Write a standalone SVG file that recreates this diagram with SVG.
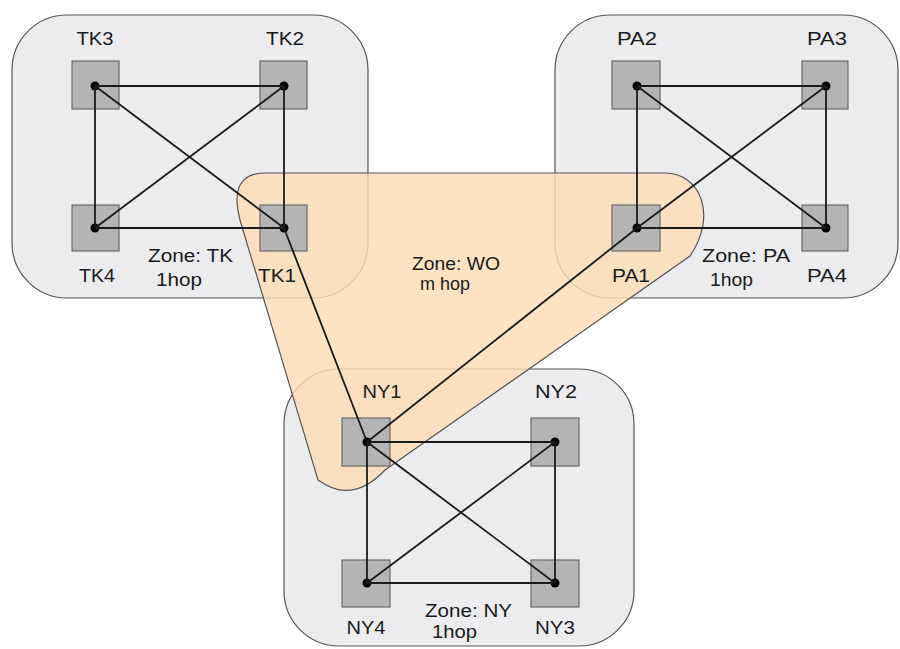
<svg xmlns="http://www.w3.org/2000/svg" width="900" height="649" viewBox="0 0 900 649">
<style>
.zone{fill:#ececef;stroke:#555;stroke-width:1.2}
.wo{fill:#fcdcb6;fill-opacity:0.82;stroke:#555;stroke-width:1.2}
.box{fill:#b4b4b6;stroke:#6a6a6a;stroke-width:1.2}
.dot{fill:#000}
.lbl{font-family:"Liberation Sans",Arial,sans-serif;font-size:18px;fill:#1a1a1a}
.c{text-anchor:middle}
.ln{stroke:#1a1a1a;stroke-width:1.8;fill:none}
</style>
<rect width="900" height="649" fill="#fff"/>
<g id="zone-tk"><rect class="zone" x="12" y="15" width="356" height="283" rx="55"/>
<text class="lbl" x="148" y="262" textLength="85" lengthAdjust="spacingAndGlyphs">Zone: TK</text>
<text class="lbl" x="156" y="286" textLength="46" lengthAdjust="spacingAndGlyphs">1hop</text></g>
<g id="zone-pa"><rect class="zone" x="555" y="15" width="343" height="283" rx="55"/>
<text class="lbl" x="702" y="262" textLength="88" lengthAdjust="spacingAndGlyphs">Zone: PA</text>
<text class="lbl" x="710" y="286" textLength="43" lengthAdjust="spacingAndGlyphs">1hop</text></g>
<g id="zone-ny"><rect class="zone" x="284" y="369" width="350" height="277" rx="55"/>
<text class="lbl" x="425" y="617" textLength="87" lengthAdjust="spacingAndGlyphs">Zone: NY</text>
<text class="lbl" x="432" y="638" textLength="45" lengthAdjust="spacingAndGlyphs">1hop</text></g>
<g id="zone-wo"><path class="wo" d="M265 173 L665 173 C700 173 718 215 690 256 L385 470 Q352 505 318 480 L240 220 Q228 173 265 173 Z"/>
<text class="lbl" x="412" y="270" textLength="88" lengthAdjust="spacingAndGlyphs">Zone: WO</text>
<text class="lbl" x="420" y="290" textLength="50" lengthAdjust="spacingAndGlyphs">m hop</text></g>

<g id="TK3"><rect class="box" x="72" y="61" width="47" height="48"/><circle class="dot" cx="95" cy="86" r="4.5"/><text class="lbl c" x="95" y="45" textLength="37" lengthAdjust="spacingAndGlyphs">TK3</text></g>
<g id="TK2"><rect class="box" x="260" y="61" width="47" height="48"/><circle class="dot" cx="284" cy="86" r="4.5"/><text class="lbl c" x="285" y="45" textLength="38" lengthAdjust="spacingAndGlyphs">TK2</text></g>
<g id="TK4"><rect class="box" x="72" y="205" width="47" height="46"/><circle class="dot" cx="95" cy="228" r="4.5"/><text class="lbl c" x="97" y="282" textLength="36" lengthAdjust="spacingAndGlyphs">TK4</text></g>
<g id="TK1"><rect class="box" x="260" y="205" width="47" height="46"/><circle class="dot" cx="284" cy="228" r="4.5"/><text class="lbl c" x="277" y="282" textLength="38" lengthAdjust="spacingAndGlyphs">TK1</text></g>

<g id="PA2"><rect class="box" x="612" y="61" width="48" height="48"/><circle class="dot" cx="637" cy="86" r="4.5"/><text class="lbl c" x="637" y="45" textLength="40" lengthAdjust="spacingAndGlyphs">PA2</text></g>
<g id="PA3"><rect class="box" x="802" y="61" width="46" height="48"/><circle class="dot" cx="826" cy="86" r="4.5"/><text class="lbl c" x="827" y="45" textLength="40" lengthAdjust="spacingAndGlyphs">PA3</text></g>
<g id="PA1"><rect class="box" x="612" y="205" width="48" height="46"/><circle class="dot" cx="637" cy="228" r="4.5"/><text class="lbl c" x="631" y="282" textLength="38" lengthAdjust="spacingAndGlyphs">PA1</text></g>
<g id="PA4"><rect class="box" x="802" y="205" width="46" height="46"/><circle class="dot" cx="826" cy="228" r="4.5"/><text class="lbl c" x="827" y="282" textLength="40" lengthAdjust="spacingAndGlyphs">PA4</text></g>

<g id="NY1"><rect class="box" x="342" y="418" width="48" height="48"/><circle class="dot" cx="367" cy="442" r="4.5"/><text class="lbl c" x="382" y="398" textLength="39" lengthAdjust="spacingAndGlyphs">NY1</text></g>
<g id="NY2"><rect class="box" x="531" y="418" width="48" height="48"/><circle class="dot" cx="555" cy="442" r="4.5"/><text class="lbl c" x="556" y="398" textLength="42" lengthAdjust="spacingAndGlyphs">NY2</text></g>
<g id="NY4"><rect class="box" x="342" y="560" width="48" height="47"/><circle class="dot" cx="367" cy="583" r="4.5"/><text class="lbl c" x="366" y="634" textLength="39" lengthAdjust="spacingAndGlyphs">NY4</text></g>
<g id="NY3"><rect class="box" x="531" y="560" width="48" height="47"/><circle class="dot" cx="555" cy="583" r="4.5"/><text class="lbl c" x="555" y="634" textLength="40" lengthAdjust="spacingAndGlyphs">NY3</text></g>

<g id="connectors" class="ln">
<line x1="95" y1="86" x2="284" y2="86"/>
<line x1="95" y1="228" x2="284" y2="228"/>
<line x1="95" y1="86" x2="95" y2="228"/>
<line x1="284" y1="86" x2="284" y2="228"/>
<line x1="95" y1="86" x2="284" y2="228"/>
<line x1="284" y1="86" x2="95" y2="228"/>
<line x1="637" y1="86" x2="826" y2="86"/>
<line x1="637" y1="228" x2="826" y2="228"/>
<line x1="637" y1="86" x2="637" y2="228"/>
<line x1="826" y1="86" x2="826" y2="228"/>
<line x1="637" y1="86" x2="826" y2="228"/>
<line x1="826" y1="86" x2="637" y2="228"/>
<line x1="367" y1="442" x2="555" y2="442"/>
<line x1="367" y1="583" x2="555" y2="583"/>
<line x1="367" y1="442" x2="367" y2="583"/>
<line x1="555" y1="442" x2="555" y2="583"/>
<line x1="367" y1="442" x2="555" y2="583"/>
<line x1="555" y1="442" x2="367" y2="583"/>
<line x1="284" y1="228" x2="367" y2="442"/>
<line x1="637" y1="228" x2="367" y2="442"/>
</g>
</svg>
